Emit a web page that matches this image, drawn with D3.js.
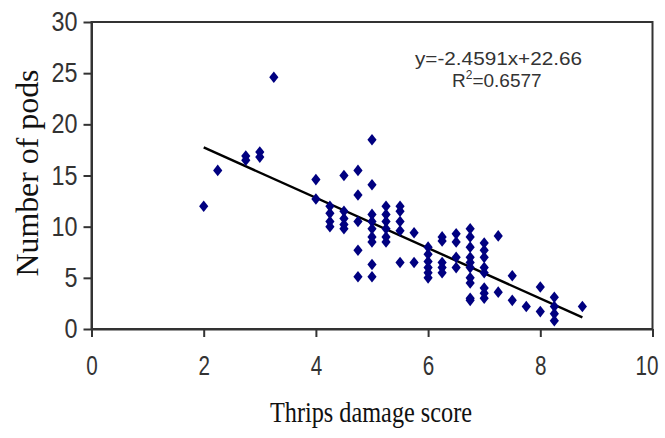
<!DOCTYPE html>
<html>
<head>
<meta charset="utf-8">
<script src="https://cdn.jsdelivr.net/npm/d3@7/dist/d3.min.js"></script>
<style>
  html, body { margin: 0; padding: 0; background: #ffffff; }
  svg { display: block; }
</style>
</head>
<body>
<svg id="chart" width="665" height="438"></svg>
<script>
// ---- data ----
const damageScore = [
  2, 2.25, 2.75, 2.75, 3, 3, 3.25,
  4, 4,
  4.25, 4.25, 4.25, 4.25,
  4.5, 4.5, 4.5, 4.5, 4.5,
  4.75, 4.75, 4.75, 4.75, 4.75,
  5, 5, 5, 5, 5, 5, 5, 5, 5,
  5.25, 5.25, 5.25, 5.25, 5.25, 5.25,
  5.5, 5.5, 5.5, 5.5, 5.5,
  5.75, 5.75,
  6, 6, 6, 6, 6, 6,
  6.25, 6.25, 6.25, 6.25, 6.25,
  6.5, 6.5, 6.5, 6.5,
  6.75, 6.75, 6.75, 6.75, 6.75, 6.75, 6.75, 6.75, 6.75, 6.75,
  7, 7, 7, 7, 7, 7, 7, 7,
  7.25, 7.25,
  7.5, 7.5,
  7.75,
  8, 8,
  8.25, 8.25, 8.25, 8.25,
  8.75
];
const podCount = [
  12, 15.5, 16.5, 16.9, 16.8, 17.3, 24.6,
  14.6, 12.7,
  12, 11.3, 10.5, 10,
  15, 11.5, 10.8, 10.2, 9.8,
  15.5, 13.1, 10.5, 7.7, 5.1,
  18.5, 14.1, 11.2, 10.5, 9.8, 9, 8.5, 6.3, 5.1,
  12, 11.2, 10.5, 9.8, 9, 8.5,
  12, 11.5, 10.5, 9.6, 6.5,
  9.4, 6.5,
  8, 7.3, 6.6, 6, 5.5, 5,
  9, 8.6, 6.5, 6, 5.5,
  9.3, 8.5, 7, 6,
  9.8, 9, 8, 7, 6.5, 6, 5, 4.5, 3, 2.8,
  8.4, 7.7, 7, 6, 5.5, 4, 3.5, 3,
  9.1, 3.6,
  5.2, 2.8,
  2.2,
  4.1, 1.7,
  3.1, 2.2, 1.5, 0.8,
  2.2
];
const xTicks = [0, 2, 4, 6, 8, 10];
const yTicks = [0, 5, 10, 15, 20, 25, 30];
const trendSlope = -2.4591;
const trendIntercept = 22.66;
const trendRange = [2, 8.75];
const equationText = "y=-2.4591x+22.66";
const rSquaredText = "0.6577";
const xTitle = "Thrips damage score";
const yTitle = "Number of pods";

// ---- layout ----
const svg = d3.select("#chart");
const plotLeft = 91.5, plotRight = 652.5, plotTop = 22, plotBottom = 329;
const x = d3.scaleLinear().domain([0, 10]).range([plotLeft, plotRight]);
const y = d3.scaleLinear().domain([0, 30]).range([plotBottom, plotTop]);

svg.append("rect").attr("width", 665).attr("height", 438).attr("fill", "#ffffff");

// plot frame
svg.append("rect")
  .attr("x", plotLeft).attr("y", plotTop)
  .attr("width", plotRight - plotLeft).attr("height", plotBottom - plotTop)
  .attr("fill", "none").attr("stroke", "#333").attr("stroke-width", 2);

const tickFont = "'Liberation Sans Narrow', 'Arial Narrow', 'Liberation Sans', Arial, sans-serif";

// y axis
const yAxis = svg.append("g")
  .attr("transform", `translate(${plotLeft},0)`)
  .call(d3.axisLeft(y).tickValues(yTicks).tickSize(8).tickSizeOuter(0).tickPadding(6));
yAxis.select(".domain").attr("stroke", "#333").attr("stroke-width", 2);
yAxis.selectAll(".tick line").attr("stroke", "#333").attr("stroke-width", 2);
yAxis.selectAll(".tick text")
  .attr("font-family", tickFont).attr("font-size", 27).attr("fill", "#333")
  .attr("x", -14)
  .attr("textLength", d => String(d).length * 13)
  .attr("lengthAdjust", "spacingAndGlyphs");

// x axis
const xAxis = svg.append("g")
  .attr("transform", `translate(0,${plotBottom})`)
  .call(d3.axisBottom(x).tickValues(xTicks).tickSize(8).tickSizeOuter(0).tickPadding(6));
xAxis.select(".domain").attr("stroke", "#333").attr("stroke-width", 2);
xAxis.selectAll(".tick line").attr("stroke", "#333").attr("stroke-width", 2);
xAxis.selectAll(".tick text")
  .attr("font-family", tickFont).attr("font-size", 27).attr("fill", "#333")
  .attr("y", 27).attr("dy", "0.71em")
  .attr("textLength", d => String(d).length * 11.5)
  .attr("lengthAdjust", "spacingAndGlyphs");
xAxis.selectAll(".tick text").filter(d => d === 10).attr("dx", -6);

// trend line
const trend = trendRange.map(v => [v, trendSlope * v + trendIntercept]);
svg.append("path")
  .attr("d", d3.line().x(d => x(d[0])).y(d => y(d[1]))(trend))
  .attr("fill", "none").attr("stroke", "#000").attr("stroke-width", 2.4);

// points (diamonds)
const diamond = {
  draw(ctx, size) {
    const h = 5.8, w = 4.6;
    ctx.moveTo(0, -h); ctx.lineTo(w, 0); ctx.lineTo(0, h); ctx.lineTo(-w, 0); ctx.closePath();
  }
};
const pts = damageScore.map((d, i) => ({ sx: d, py: podCount[i] }));
svg.append("g").selectAll("path")
  .data(pts).enter().append("path")
  .attr("d", d3.symbol().type(diamond))
  .attr("transform", d => `translate(${x(d.sx)},${y(d.py)})`)
  .attr("fill", "#000080");

// equation text
const eqFont = "'Liberation Sans', Arial, sans-serif";
svg.append("text")
  .attr("x", 415).attr("y", 65)
  .attr("font-family", eqFont).attr("font-size", 19).attr("fill", "#333")
  .attr("textLength", 167).attr("lengthAdjust", "spacingAndGlyphs")
  .text(equationText);
const r2 = svg.append("text")
  .attr("x", 452).attr("y", 87)
  .attr("font-family", eqFont).attr("font-size", 19).attr("fill", "#333");
r2.append("tspan").text("R");
r2.append("tspan").attr("font-size", 12).attr("dy", -8).text("2");
r2.append("tspan").attr("dy", 8).text("=" + rSquaredText);

// axis titles
const titleFont = "'Liberation Serif', 'Times New Roman', serif";
svg.append("text")
  .attr("x", 371).attr("y", 422)
  .attr("text-anchor", "middle")
  .attr("font-family", titleFont).attr("font-size", 30).attr("fill", "#111")
  .attr("textLength", 202).attr("lengthAdjust", "spacingAndGlyphs")
  .text(xTitle);
svg.append("text")
  .attr("transform", "translate(38,173) rotate(-90)")
  .attr("text-anchor", "middle")
  .attr("font-family", titleFont).attr("font-size", 31).attr("fill", "#111")
  .attr("textLength", 207).attr("lengthAdjust", "spacingAndGlyphs")
  .text(yTitle);
</script>
</body>
</html>
